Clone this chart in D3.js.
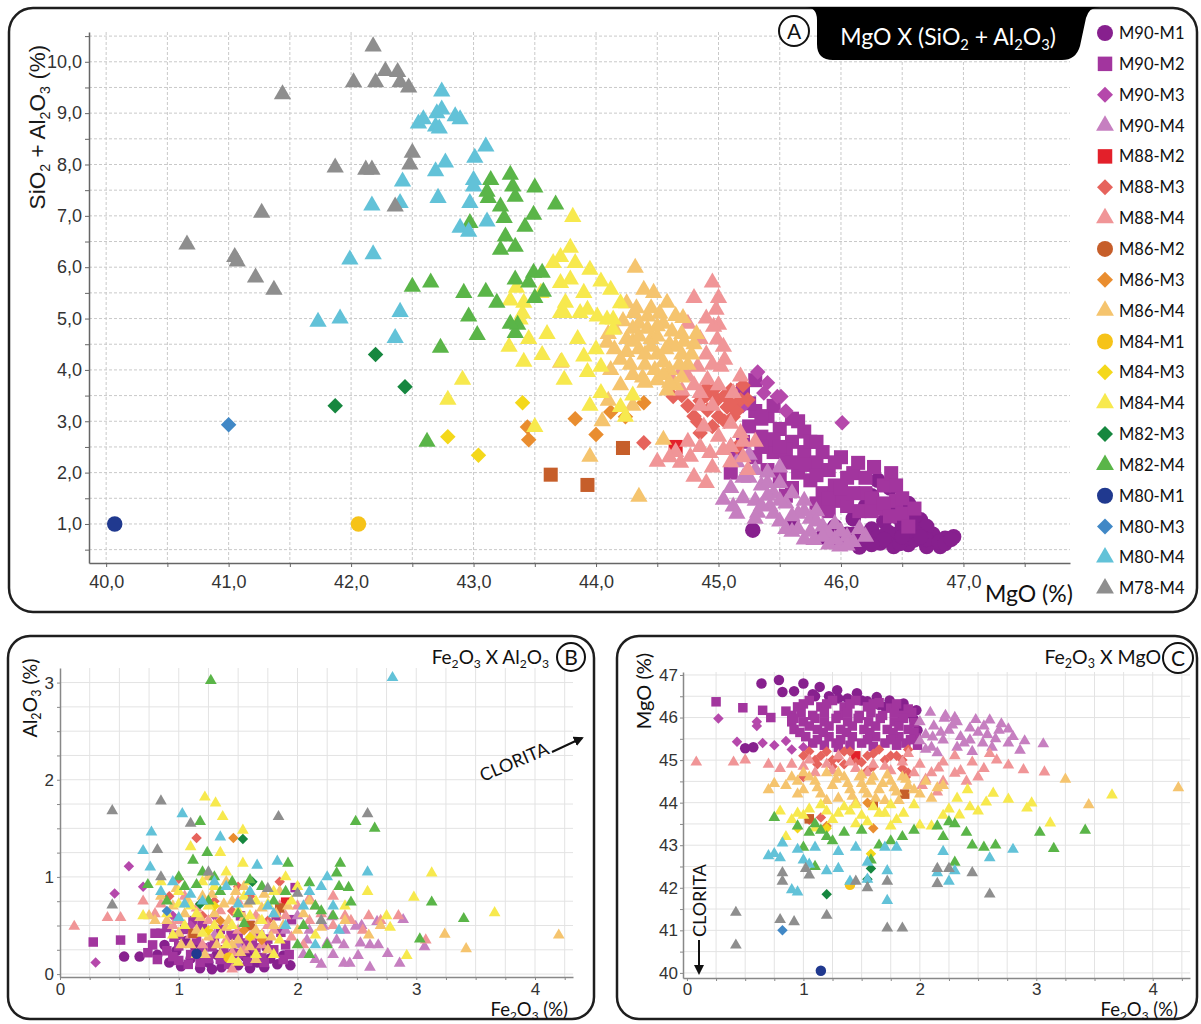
<!DOCTYPE html>
<html>
<head>
<meta charset="utf-8">
<script src="https://cdn.jsdelivr.net/npm/d3@7"></script>
<style>
  body { margin: 0; background: #fff; }
  svg { display: block; }
  .tick text { font-family: "Liberation Sans", Arial, sans-serif; fill: #333; }
  .lbl { font-family: Lato, "Open Sans", sans-serif; fill: #111; }
</style>
</head>
<body>
<div id="chart"></div>
<script>
// ---- series (legend order) ----
var seriesNames = ["M90-M1", "M90-M2", "M90-M3", "M90-M4", "M88-M2", "M88-M3", "M88-M4",
    "M86-M2", "M86-M3", "M86-M4", "M84-M1", "M84-M3", "M84-M4", "M82-M3", "M82-M4",
    "M80-M1", "M80-M3", "M80-M4", "M78-M4"];
var seriesColors = ["#87208e", "#a2359e", "#b548ab", "#c67fc0", "#e3202a", "#e6635c", "#f09597",
    "#c65e2a", "#e98d2f", "#f5c46e", "#f6c319", "#f4d81a", "#f7e94e", "#16873f", "#5ab548",
    "#20398f", "#4188c6", "#62c2d8", "#8e8e8e"];
var plotShapes = ["circle", "square", "diamond", "triangle", "square", "diamond", "triangle",
    "square", "diamond", "triangle", "circle", "diamond", "triangle", "diamond", "triangle",
    "circle", "diamond", "triangle", "triangle"];
var legendShapes = ["circle", "square", "diamond", "triangle", "square", "diamond", "triangle",
    "circle", "diamond", "triangle", "circle", "diamond", "triangle", "diamond", "triangle",
    "circle", "diamond", "triangle", "triangle"];

// ---- panel A: MgO (%) x SiO2 + Al2O3 (%) ----
var A_M90_M1 = [[45.28,0.88],[45.6,1.02],[45.85,0.75],[45.95,0.95],[46.05,0.8],[46.1,1.1],[46.2,0.65],[46.25,0.9],[46.32,0.63],[46.35,1.05],[46.43,0.56],[46.45,0.8],[46.5,1.0],[46.55,0.6],[46.6,0.69],[46.65,1.08],[46.7,0.56],[46.75,0.8],[46.81,0.56],[46.85,0.72],[46.92,0.75],[46.4,1.25],[46.2,1.35],[46.55,1.2],[46.3,0.75],[46.15,0.55],[46.0,0.65],[46.7,0.95],[46.48,0.62],[46.38,0.85],[46.6,0.85],[46.25,1.55],[46.4,1.7],[46.45,1.35],[46.3,1.85],[46.55,1.4],[46.6,1.15],[46.7,0.7],[46.8,0.65],[46.5,0.75],[46.35,0.7],[46.25,0.6],[46.1,0.8],[46.45,1.15],[46.65,0.75],[46.85,0.62],[46.9,0.7]];
var A_M90_M2 = [[45.1,2.0],[45.2,2.6],[45.25,2.9],[45.3,2.3],[45.35,2.7],[45.4,3.1],[45.45,2.4],[45.5,2.85],[45.55,2.2],[45.6,2.6],[45.65,2.0],[45.7,2.4],[45.75,1.85],[45.8,2.2],[45.85,1.6],[45.9,2.05],[45.95,1.75],[46.0,1.45],[46.05,1.9],[46.1,1.99],[46.14,2.19],[46.2,1.6],[46.27,2.11],[46.3,1.3],[46.35,1.75],[46.41,1.99],[46.45,1.45],[46.5,1.2],[45.6,1.7],[45.7,2.8],[45.5,1.9],[45.4,2.05],[45.3,3.2],[45.45,3.3],[45.8,1.4],[46.0,2.3],[45.65,3.0],[45.55,1.55],[45.9,1.25],[46.15,1.25],[46.25,1.5],[45.2,3.6],[45.3,3.8],[45.25,3.35],[45.35,3.05],[45.45,2.65],[45.55,2.45],[45.6,3.05],[45.7,2.15],[45.75,2.6],[45.8,1.95],[45.85,2.4],[45.9,1.5],[45.95,2.2],[46.0,1.7],[46.05,1.35],[46.1,1.6],[46.2,1.9],[46.25,1.25],[46.35,1.4],[46.4,1.15],[46.45,1.75],[46.5,1.5],[46.55,0.95],[46.6,1.3],[45.5,2.5],[45.6,2.2],[45.35,2.5],[45.15,2.4],[45.8,2.6]];
var A_M90_M3 = [[45.32,3.96],[45.48,3.48],[45.37,3.55],[46.01,2.97],[45.51,3.48],[45.4,3.75],[45.2,3.3],[45.55,3.2]];
var A_M90_M4 = [[45.04,1.47],[45.12,1.34],[45.32,1.22],[45.42,1.34],[45.5,1.05],[45.6,0.85],[45.7,0.7],[45.78,0.69],[45.85,0.95],[45.9,0.6],[45.99,0.56],[46.05,0.75],[45.55,1.4],[45.65,1.2],[45.75,1.1],[45.45,1.6],[45.35,1.75],[45.25,1.9],[45.6,1.6],[45.8,1.25],[45.95,1.0],[45.2,1.5],[45.3,1.45],[45.15,2.2],[45.25,2.35],[45.4,2.0],[45.5,1.8],[45.7,1.45],[46.15,0.9],[46.1,0.65],[45.9,0.8],[45.1,1.7],[45.15,1.2],[45.2,1.9],[45.3,1.1],[45.35,1.35],[45.4,1.55],[45.45,1.2],[45.5,1.45],[45.55,0.9],[45.6,1.15],[45.65,0.9],[45.7,1.25],[45.75,0.85],[45.8,1.05],[45.85,0.75],[45.95,0.7],[46.0,0.85],[46.05,0.58],[46.2,0.75],[45.4,1.8],[45.5,2.1],[45.3,2.05],[45.1,2.5]];
var A_M88_M2 = [[44.65,2.5]];
var A_M88_M3 = [[44.39,2.58],[44.63,3.48],[44.83,2.99],[44.91,3.22],[44.99,3.42],[45.07,3.28],[45.12,3.09],[45.18,3.42],[44.85,2.77],[44.96,3.61],[45.1,3.61],[45.15,2.5],[45.24,3.42],[45.0,3.1],[45.05,3.5],[44.9,3.5],[45.15,3.2],[44.75,3.3],[44.8,3.1],[44.95,2.9],[45.05,3.0],[44.9,3.65],[45.1,3.35],[45.2,3.7],[44.7,3.5],[44.85,3.4]];
var A_M88_M4 = [[44.98,5.17],[45.0,4.88],[44.96,4.84],[44.99,4.59],[45.04,4.45],[44.83,4.06],[44.75,3.87],[44.91,3.81],[45.02,4.06],[45.12,3.55],[45.18,3.87],[44.77,2.31],[44.69,2.19],[44.8,1.92],[44.5,2.21],[44.93,2.38],[45.04,2.44],[45.18,2.77],[45.24,2.05],[44.85,3.55],[44.95,3.3],[44.7,3.6],[44.9,4.3],[45.05,4.2],[44.8,3.7],[45.1,2.95],[44.88,2.9],[45.2,2.3],[44.6,3.9],[45.3,2.6],[44.75,4.9],[44.8,5.4],[44.85,4.6],[44.9,5.0],[44.95,4.1],[45.0,3.7],[44.7,4.0],[44.85,3.3],[44.75,2.6],[44.65,2.4],[44.85,2.5],[45.0,2.7],[45.1,2.5],[45.2,2.6],[44.95,2.1],[45.1,2.2],[44.9,1.8],[44.6,2.3],[44.95,5.7],[45.0,5.4]];
var A_M86_M2 = [[43.63,1.96],[43.93,1.76],[44.22,2.48]];
var A_M86_M3 = [[43.45,2.64],[43.44,2.89],[43.83,3.05],[44.0,2.74],[44.12,3.18],[44.39,3.36],[44.24,3.09]];
var A_M86_M4 = [[44.32,5.99],[44.39,5.56],[44.47,5.5],[44.58,5.31],[44.71,5.01],[44.31,5.11],[44.42,5.04],[44.2,4.2],[44.25,4.6],[44.3,3.9],[44.35,4.4],[44.35,4.9],[44.4,4.1],[44.45,4.6],[44.5,3.8],[44.5,4.3],[44.55,4.9],[44.6,4.5],[44.6,4.0],[44.65,3.7],[44.7,4.3],[44.7,4.7],[44.75,4.1],[44.8,4.5],[44.45,5.2],[44.25,5.3],[44.15,4.8],[44.3,4.55],[44.4,4.3],[44.55,4.15],[44.65,4.45],[44.5,4.65],[44.4,3.75],[44.58,3.6],[44.2,3.7],[43.95,2.31],[44.35,1.53],[44.55,2.64],[43.71,4.14],[44.09,4.53],[44.1,3.4],[44.05,3.0],[44.3,3.3],[44.12,4.0],[44.22,4.95],[44.28,4.1],[44.33,5.2],[44.38,3.85],[44.42,4.8],[44.48,4.0],[44.52,5.1],[44.57,4.4],[44.62,4.75],[44.68,4.1],[44.72,4.55],[44.78,4.3],[44.82,4.7],[44.65,5.05],[44.45,4.45],[44.35,4.65],[44.25,4.35],[44.55,3.9],[44.7,3.85],[44.6,3.75],[44.15,4.4],[44.1,4.7],[44.3,4.8],[44.5,4.85]];
var A_M84_M1 = [[42.06,1.0]];
var A_M84_M3 = [[43.4,3.36],[42.79,2.7],[43.04,2.34]];
var A_M84_M4 = [[43.81,6.98],[43.79,6.38],[43.71,6.2],[43.65,6.08],[43.83,6.08],[43.95,5.95],[44.04,5.72],[44.12,5.56],[43.71,5.69],[43.79,5.76],[43.75,5.31],[43.93,5.17],[43.41,5.31],[43.38,4.98],[44.01,5.04],[44.09,4.98],[44.14,4.78],[43.71,5.11],[43.29,4.45],[43.41,4.16],[43.56,4.29],[42.91,3.81],[42.79,3.42],[43.74,5.11],[43.87,5.11],[43.72,4.16],[43.74,3.81],[43.9,4.26],[43.93,3.96],[44.04,4.06],[44.04,3.55],[44.14,4.98],[44.2,3.28],[44.24,3.09],[43.5,2.89],[43.6,4.7],[43.85,4.6],[43.55,5.5],[43.9,5.5],[44.2,5.3],[44.0,4.4],[43.35,5.6],[43.45,4.6],[44.3,3.5],[43.95,3.3],[43.3,5.35],[43.4,5.1]];
var A_M82_M3 = [[41.87,3.3],[42.2,4.3],[42.44,3.67]];
var A_M82_M4 = [[43.14,7.7],[43.11,7.47],[43.12,7.35],[43.3,7.8],[43.32,7.57],[43.34,7.37],[43.5,7.55],[43.22,7.18],[43.25,6.96],[42.97,6.86],[43.42,6.79],[43.49,7.02],[43.67,7.22],[43.26,6.6],[43.22,6.34],[43.34,6.4],[42.5,5.62],[42.65,5.7],[42.92,5.5],[43.1,5.52],[43.19,5.31],[43.34,5.76],[43.49,5.89],[43.56,5.89],[43.5,5.4],[43.57,5.52],[42.96,5.04],[43.36,4.88],[43.34,4.72],[43.03,4.68],[42.73,4.43],[42.62,2.6],[43.45,5.7],[43.3,4.9]];
var A_M80_M1 = [[40.07,1.0]];
var A_M80_M3 = [[41.0,2.93]];
var A_M80_M4 = [[42.42,7.67],[42.4,7.25],[42.17,7.2],[41.99,6.15],[42.18,6.25],[41.73,4.94],[41.91,5.0],[42.4,5.13],[42.36,4.62],[42.55,8.8],[42.74,9.42],[42.59,8.88],[42.69,8.74],[42.74,9.07],[42.85,8.94],[42.89,8.88],[42.77,8.04],[42.69,7.87],[43.01,8.13],[43.1,8.35],[43.0,7.7],[43.0,7.57],[42.71,7.35],[42.97,7.25],[42.89,6.77],[42.96,6.69],[43.11,6.89],[42.7,9.0],[42.72,8.7]];
var A_M78_M4 = [[41.44,9.37],[42.18,10.3],[42.02,9.6],[42.2,9.6],[42.28,9.82],[42.38,9.8],[42.4,9.6],[42.47,9.5],[42.5,8.23],[42.48,8.0],[42.36,7.18],[41.87,7.94],[42.12,7.9],[42.17,7.9],[41.27,7.06],[40.66,6.44],[41.05,6.2],[41.07,6.11],[41.22,5.8],[41.37,5.56]];

// ---- panel B: Fe2O3 (%) x Al2O3 (%) ----
var B_M90_M1 = [[0.54,0.18],[0.67,0.18],[0.82,0.2],[0.92,0.12],[1.02,0.08],[1.1,0.16],[1.18,0.06],[1.25,0.12],[1.32,0.2],[1.36,0.07],[1.42,0.14],[1.5,0.09],[1.56,0.18],[1.6,0.06],[1.66,0.12],[1.72,0.07],[1.77,0.16],[1.83,0.1],[1.88,0.19],[1.94,0.09],[0.98,0.24],[1.14,0.27],[1.62,0.24],[1.74,0.27],[1.28,0.05],[1.46,0.22],[0.88,0.3],[1.06,0.34]];
var B_M90_M2 = [[0.28,0.33],[0.51,0.35],[0.69,0.37],[1.98,0.89],[0.78,0.3],[0.85,0.42],[0.9,0.24],[0.96,0.38],[1.0,0.29],[1.05,0.46],[1.1,0.2],[1.15,0.35],[1.2,0.27],[1.25,0.16],[1.3,0.35],[1.38,0.25],[1.44,0.4],[1.5,0.21],[1.55,0.32],[1.6,0.5],[1.65,0.27],[1.7,0.17],[1.75,0.36],[1.8,0.25],[1.86,0.43],[1.9,0.3],[1.95,0.56],[1.93,0.2],[1.0,0.14],[0.74,0.22],[1.35,0.46],[1.2,0.5],[1.82,0.6],[1.52,0.6],[0.9,0.48],[0.8,0.42],[1.08,0.1],[1.42,0.1],[1.58,0.13],[1.68,0.4],[1.28,0.28],[1.12,0.55],[0.95,0.18],[0.82,0.15],[1.18,0.12],[1.35,0.15],[1.62,0.35],[1.72,0.12],[1.88,0.15],[1.5,0.4],[1.0,0.4]];
var B_M90_M3 = [[0.58,1.11],[0.46,0.83],[0.7,0.9],[0.3,0.12],[1.1,0.5],[1.3,0.6],[0.95,0.6]];
var B_M90_M4 = [[2.89,0.56],[2.54,0.5],[2.49,0.49],[2.61,0.3],[2.68,0.3],[2.51,0.19],[2.44,0.11],[2.39,0.11],[2.61,0.07],[2.76,0.21],[2.86,0.11],[3.07,0.28],[2.33,0.35],[2.25,0.32],[2.15,0.15],[2.39,0.3],[2.53,0.32],[2.67,0.54],[2.29,0.59],[2.22,0.49],[2.08,0.35],[2.05,0.2],[2.2,0.1],[2.3,0.2],[2.1,0.45],[1.7,0.4],[1.5,0.3],[1.3,0.4],[2.0,0.6],[2.4,0.45],[1.9,0.45]];
var B_M88_M2 = [[1.9,0.74]];
var B_M88_M3 = [[1.15,1.4],[1.0,0.98],[0.92,0.8],[1.3,0.75],[1.45,0.65],[1.6,0.8],[1.75,0.55],[1.2,0.6],[1.85,0.95],[1.5,0.9]];
var B_M88_M4 = [[0.12,0.49],[0.4,0.58],[0.51,0.58],[0.7,0.75],[0.85,0.72],[1.0,0.55],[1.1,0.4],[1.2,0.3],[1.3,0.5],[1.4,0.35],[1.5,0.45],[1.55,0.25],[1.65,0.6],[1.7,0.3],[1.8,0.45],[1.9,0.6],[2.0,0.7],[2.1,0.55],[2.2,0.62],[2.3,0.5],[2.45,0.55],[2.55,0.45],[2.7,0.55],[2.85,0.6],[1.45,0.05],[1.15,0.2],[2.3,0.8],[2.1,0.78],[3.08,0.35],[0.8,0.62],[0.95,0.5],[1.05,0.8],[1.25,0.55],[1.35,0.65],[1.45,0.22],[1.6,0.38],[1.75,0.5],[1.85,0.7],[1.95,0.38],[2.05,0.3],[2.15,0.7],[2.4,0.6],[2.6,0.6],[1.15,0.68],[1.5,0.75]];
var B_M86_M2 = [[1.12,0.42],[1.85,0.68],[1.6,0.5]];
var B_M86_M3 = [[1.46,1.4],[1.35,0.55],[1.55,0.45],[1.7,0.35]];
var B_M86_M4 = [[0.9,0.55],[0.95,0.7],[1.05,0.62],[1.15,0.45],[1.2,0.8],[1.25,0.38],[1.3,0.62],[1.35,0.2],[1.4,0.48],[1.45,0.75],[1.5,0.35],[1.55,0.58],[1.6,0.28],[1.65,0.45],[1.7,0.68],[1.75,0.25],[1.8,0.5],[1.85,0.85],[2.1,0.75],[2.0,0.45],[2.6,0.4],[2.7,0.5],[3.24,0.41],[3.42,0.26],[4.2,0.4],[1.25,1.0],[1.4,0.95],[1.02,0.3],[0.75,0.6],[0.85,0.8],[0.98,0.88],[1.08,0.75],[1.18,0.58],[1.22,0.2],[1.32,0.3],[1.38,0.72],[1.42,0.55],[1.48,0.85],[1.52,0.22],[1.58,0.72],[1.62,0.4],[1.68,0.55],[1.72,0.82],[1.78,0.38],[1.82,0.62],[1.88,0.5],[1.92,0.7],[2.05,0.62],[2.2,0.48],[2.4,0.55],[1.0,0.42],[1.1,0.3],[0.8,0.55],[1.28,0.82],[1.55,0.9],[1.65,0.15],[1.45,0.3]];
var B_M84_M1 = [[1.42,0.17]];
var B_M84_M3 = [[1.3,0.7],[1.6,0.38],[1.25,0.45]];
var B_M84_M4 = [[1.22,1.82],[1.31,1.76],[1.37,1.62],[1.54,1.48],[1.1,1.31],[1.35,1.25],[1.54,1.14],[3.13,1.04],[2.98,0.79],[2.59,0.85],[3.66,0.63],[2.92,0.19],[2.78,0.48],[0.85,0.95],[1.0,0.85],[1.1,0.7],[1.2,0.95],[1.3,0.5],[1.4,0.3],[1.5,0.65],[1.6,0.95],[1.7,0.55],[1.8,0.85],[1.9,1.0],[0.95,0.4],[1.15,0.2],[1.45,0.15],[1.65,0.2],[2.0,0.9],[2.15,0.4],[2.4,0.7],[0.7,0.6],[2.75,0.6],[0.9,0.62],[1.05,0.5],[1.15,0.62],[1.25,0.7],[1.35,0.4],[1.45,0.5],[1.55,0.8],[1.6,0.6],[1.7,0.4],[1.75,0.72],[1.85,0.35],[1.95,0.75],[1.3,0.9],[1.0,0.72],[1.4,1.05],[1.65,0.75],[1.2,0.42],[1.5,0.12],[1.8,0.2]];
var B_M82_M3 = [[1.54,1.39],[1.18,0.72],[1.62,0.95]];
var B_M82_M4 = [[1.27,3.02],[2.49,1.57],[2.65,1.5],[1.18,1.57],[1.24,1.25],[1.12,1.17],[1.92,1.14],[1.2,1.05],[0.74,0.92],[1.05,0.9],[2.36,1.14],[2.33,1.04],[2.1,0.94],[2.43,0.89],[2.45,0.74],[3.13,0.74],[3.4,0.57],[3.03,0.36],[1.6,0.97],[1.35,0.85],[1.8,0.75],[2.2,0.65],[2.25,0.3],[2.3,0.6],[0.9,0.75],[1.5,0.62],[2.05,0.5],[1.0,1.0],[1.15,0.92],[1.3,1.0],[1.45,0.95],[1.7,0.9],[1.9,0.85],[2.15,0.7],[2.35,0.9],[1.25,0.75],[1.55,0.52],[2.0,0.3],[2.1,0.2]];
var B_M80_M1 = [[1.15,0.21]];
var B_M80_M3 = [[0.9,0.65]];
var B_M80_M4 = [[2.8,3.05],[1.03,1.65],[0.77,1.46],[0.7,1.27],[0.76,1.1],[1.35,1.41],[1.83,1.16],[1.66,1.12],[2.59,1.05],[2.25,1.0],[0.95,0.95],[1.1,0.82],[1.4,0.9],[1.6,0.85],[2.1,0.85],[2.3,0.7],[2.2,0.9],[1.75,0.7],[1.9,0.5],[2.35,0.45],[1.0,0.58],[0.85,0.85],[1.2,0.75],[1.5,0.72],[1.8,0.62],[2.05,0.7],[2.15,0.3],[1.3,0.95],[1.05,0.72]];
var B_M78_M4 = [[0.44,1.68],[0.85,1.78],[1.84,1.62],[2.59,1.65],[0.82,1.28],[0.44,0.71],[0.85,1.0],[1.1,1.55],[1.25,1.05],[1.6,0.75],[2.2,0.55],[2.0,0.83],[1.75,0.88]];

// ---- panel C: Fe2O3 (%) x MgO (%) ----
var C_M90_M1 = [[0.64,46.8],[0.79,46.88],[0.82,46.6],[0.5,45.28],[0.57,45.3],[1.0,46.8],[1.14,46.72],[1.29,46.64],[1.46,46.57],[1.63,46.48],[1.74,46.4],[1.86,46.33],[1.97,46.17],[0.92,46.62],[1.08,46.55],[1.22,46.5],[1.38,46.45],[1.55,46.38],[1.7,46.25],[1.9,46.1],[1.95,45.95],[1.98,45.7],[1.1,46.5],[1.3,46.45],[1.5,46.4],[1.65,46.3],[1.85,46.2]];
var C_M90_M2 = [[0.25,46.37],[0.48,46.23],[0.65,46.17],[0.72,46.0],[0.85,46.15],[0.9,45.9],[1.05,46.4],[1.25,46.4],[1.45,46.4],[1.65,46.35],[0.95,46.25],[1.15,46.25],[1.35,46.25],[1.55,46.25],[1.75,46.22],[1.9,46.2],[0.9,46.05],[1.08,46.05],[1.3,46.05],[1.48,46.05],[1.68,46.05],[1.85,46.05],[1.0,45.9],[1.18,45.9],[1.38,45.9],[1.56,45.9],[1.78,45.9],[1.95,45.88],[0.92,45.72],[1.12,45.72],[1.32,45.72],[1.52,45.72],[1.72,45.72],[1.9,45.72],[1.02,45.55],[1.22,45.55],[1.42,45.55],[1.62,45.55],[1.82,45.55],[1.97,45.52],[1.08,45.4],[1.28,45.4],[1.5,45.4],[1.7,45.4],[1.88,45.4],[1.3,45.3],[1.6,45.32],[1.98,45.35],[1.0,46.32],[1.2,46.32],[1.4,46.32],[1.6,46.32],[1.8,46.32],[0.98,46.12],[1.18,46.12],[1.38,46.12],[1.58,46.12],[1.78,46.12],[1.93,46.12],[0.92,45.98],[1.1,45.98],[1.28,45.98],[1.47,45.98],[1.66,45.98],[1.86,45.98],[1.05,45.8],[1.22,45.8],[1.42,45.8],[1.62,45.8],[1.82,45.8],[0.97,45.65],[1.17,45.65],[1.37,45.65],[1.57,45.65],[1.77,45.65],[1.95,45.65],[1.12,45.48],[1.32,45.48],[1.55,45.48],[1.75,45.48],[1.92,45.48],[1.18,45.35],[1.4,45.35],[1.8,45.35]];
var C_M90_M3 = [[0.27,45.98],[0.43,45.43],[0.6,45.8],[0.75,45.35],[0.85,45.45],[0.9,45.25],[0.65,45.4],[1.0,45.3],[0.6,45.9]];
var C_M90_M4 = [[2.09,46.12],[2.21,45.98],[2.32,45.9],[2.43,45.75],[2.6,45.94],[2.76,45.73],[2.76,45.4],[3.06,45.38],[2.86,45.23],[2.54,45.4],[2.43,45.47],[2.32,45.3],[2.2,45.47],[2.11,45.54],[2.15,45.17],[2.0,45.9],[2.05,45.6],[2.25,45.7],[2.35,45.55],[2.5,45.65],[2.65,45.5],[2.7,45.85],[2.45,45.2],[2.1,45.3],[2.55,45.8],[2.3,46.0],[2.05,45.25],[2.12,45.8],[2.18,45.65],[2.28,45.82],[2.38,45.4],[2.48,45.95],[2.58,45.6],[2.62,45.3],[2.68,45.7],[2.8,45.55],[2.9,45.45],[2.22,46.05],[2.0,45.45]];
var C_M88_M2 = [[1.45,45.1]];
var C_M88_M3 = [[1.0,45.1],[1.1,45.0],[1.2,45.2],[1.3,45.05],[1.4,45.2],[1.5,44.95],[1.6,45.15],[1.7,45.0],[1.8,45.1],[1.85,44.8],[1.9,44.7],[1.0,44.6],[1.25,44.85],[1.55,44.75],[1.15,43.65],[1.05,43.6],[1.05,45.2],[1.15,45.1],[1.25,45.0],[1.35,45.2],[1.45,44.95],[1.55,45.1],[1.65,45.25],[1.75,45.1],[1.85,45.0],[1.88,44.6],[1.9,45.25],[1.35,44.9],[1.6,44.85],[1.12,44.9]];
var C_M88_M4 = [[0.08,44.95],[0.4,44.95],[0.5,45.0],[0.7,44.9],[0.8,44.8],[0.9,44.9],[1.0,44.85],[1.1,44.7],[1.2,44.9],[1.3,45.1],[1.45,44.8],[1.6,44.9],[1.75,44.75],[2.0,44.9],[2.1,44.7],[2.2,44.5],[2.35,44.75],[2.5,44.6],[2.45,44.95],[2.66,45.0],[2.76,44.88],[2.89,44.77],[3.07,44.72],[2.3,44.69],[2.16,44.81],[1.9,45.15],[2.05,44.55],[1.05,45.0],[1.25,44.75],[1.4,44.95],[1.55,44.7],[1.7,44.85],[1.85,44.95],[1.95,44.7],[2.2,44.95],[2.3,45.1],[2.55,44.8],[2.6,45.15],[2.4,44.5],[2.02,44.4],[2.15,44.25]];
var C_M86_M2 = [[1.05,43.62],[1.6,43.95],[1.87,44.2]];
var C_M86_M3 = [[1.6,43.4],[1.2,43.45],[1.55,44.0]];
var C_M86_M4 = [[0.7,44.3],[0.85,44.4],[0.9,44.6],[1.0,44.3],[1.1,44.5],[1.15,44.2],[1.25,44.4],[1.3,44.1],[1.35,44.6],[1.4,44.3],[1.45,44.0],[1.5,44.45],[1.55,44.2],[1.6,44.6],[1.65,44.3],[1.7,44.05],[1.75,44.5],[1.8,44.25],[1.85,44.6],[1.9,44.4],[2.0,44.2],[2.05,44.5],[2.15,44.35],[3.25,44.55],[3.45,43.95],[4.22,44.35],[0.95,44.5],[1.2,44.7],[1.5,44.65],[0.75,44.45],[0.95,44.2],[1.05,44.6],[1.12,44.35],[1.2,44.05],[1.28,44.55],[1.38,44.45],[1.42,44.15],[1.48,44.6],[1.52,44.3],[1.58,44.5],[1.62,44.1],[1.68,44.45],[1.72,44.65],[1.78,44.35],[1.82,44.05],[1.88,44.55],[1.95,44.3],[2.1,44.1],[2.2,44.4],[1.0,44.7],[1.3,44.7]];
var C_M84_M1 = [[1.4,42.07]];
var C_M84_M3 = [[1.58,42.8],[1.2,43.4],[0.95,43.4]];
var C_M84_M4 = [[0.8,43.8],[0.9,43.6],[1.0,43.7],[1.1,43.4],[1.2,43.8],[1.3,43.75],[1.4,43.8],[1.5,43.7],[1.6,43.9],[1.7,43.75],[1.8,43.6],[1.86,43.75],[2.0,43.47],[2.1,43.45],[2.2,43.7],[2.32,44.1],[2.41,44.3],[2.43,43.9],[2.57,44.01],[2.63,44.22],[2.76,44.08],[2.96,43.99],[2.92,43.87],[3.12,43.52],[3.65,44.18],[0.85,43.2],[1.45,43.95],[1.75,43.45],[2.34,43.71],[1.95,43.95],[1.05,43.85],[1.25,43.6],[1.35,43.9],[1.55,43.55],[1.65,43.75],[1.45,43.5],[1.15,43.95],[0.95,43.75],[1.75,43.95],[2.25,43.85],[2.5,43.8]];
var C_M82_M3 = [[1.2,41.85],[1.55,42.2],[1.58,42.45]];
var C_M82_M4 = [[0.75,43.65],[0.95,43.45],[1.05,43.3],[1.1,43.5],[1.15,43.35],[1.2,43.2],[1.25,43.1],[1.35,43.3],[1.5,43.35],[1.58,42.65],[1.65,43.0],[1.75,43.1],[1.85,43.2],[1.95,43.35],[2.15,43.45],[2.2,43.2],[2.3,43.5],[2.4,43.3],[2.45,43.0],[2.55,42.95],[2.65,43.0],[2.3,42.6],[3.03,43.3],[3.15,42.92],[3.42,43.35],[2.25,43.55],[1.1,42.5],[1.0,42.95]];
var C_M80_M1 = [[1.15,40.05]];
var C_M80_M3 = [[0.82,41.0]];
var C_M80_M4 = [[0.7,42.75],[0.75,42.8],[0.8,42.7],[0.82,43.05],[0.95,42.9],[1.0,42.65],[1.05,42.55],[1.1,42.95],[1.2,42.4],[1.3,42.85],[1.4,42.15],[1.45,42.95],[1.55,42.6],[1.7,42.95],[1.72,42.4],[1.72,41.7],[1.8,42.95],[2.2,42.85],[2.15,42.35],[2.25,42.15],[2.3,42.4],[2.6,42.7],[2.8,42.9],[0.9,41.95],[0.95,41.9],[1.3,42.45],[1.55,42.2]];
var C_M78_M4 = [[0.42,41.42],[0.42,40.65],[0.8,41.25],[0.92,41.2],[0.82,42.35],[0.82,42.15],[1.02,42.45],[1.05,42.3],[1.2,41.35],[1.55,42.0],[1.72,41.05],[1.85,41.05],[1.72,42.15],[2.15,42.45],[2.25,42.45],[2.15,42.1],[2.45,42.35],[2.6,41.85],[1.45,42.15]];

var panelA = [A_M90_M1, A_M90_M2, A_M90_M3, A_M90_M4, A_M88_M2, A_M88_M3, A_M88_M4, A_M86_M2, A_M86_M3, A_M86_M4,
    A_M84_M1, A_M84_M3, A_M84_M4, A_M82_M3, A_M82_M4, A_M80_M1, A_M80_M3, A_M80_M4, A_M78_M4];
var panelB = [B_M90_M1, B_M90_M2, B_M90_M3, B_M90_M4, B_M88_M2, B_M88_M3, B_M88_M4, B_M86_M2, B_M86_M3, B_M86_M4,
    B_M84_M1, B_M84_M3, B_M84_M4, B_M82_M3, B_M82_M4, B_M80_M1, B_M80_M3, B_M80_M4, B_M78_M4];
var panelC = [C_M90_M1, C_M90_M2, C_M90_M3, C_M90_M4, C_M88_M2, C_M88_M3, C_M88_M4, C_M86_M2, C_M86_M3, C_M86_M4,
    C_M84_M1, C_M84_M3, C_M84_M4, C_M82_M3, C_M82_M4, C_M80_M1, C_M80_M3, C_M80_M4, C_M78_M4];

var svg = d3.select("#chart").append("svg")
    .attr("width", 1201)
    .attr("height", 1024);

var arial = "'Liberation Sans', Arial, sans-serif";

// marker path for a given shape and nominal width
function symbolPath(shape, s) {
    if (shape == "circle") return d3.symbol(d3.symbolCircle, Math.PI * s * s / 4)();
    if (shape == "square") return d3.symbol(d3.symbolSquare, s * s * 0.82)();
    if (shape == "diamond") return d3.symbol(d3.symbolSquare, s * s * 0.5)();
    return d3.symbol(d3.symbolTriangle, 0.433 * s * s * 1.25)();
}

// text with chemical subscripts: "Al_2O_3"
function chem(sel, str, fs) {
    var shift = fs * 0.22, down = false;
    str.split(/(_\d)/).filter(function (p) { return p; }).forEach(function (p) {
        if (p[0] == "_") {
            sel.append("tspan").attr("font-size", fs * 0.64).attr("dy", down ? 0 : shift).text(p.slice(1));
            down = true;
        } else {
            sel.append("tspan").attr("dy", down ? -shift : 0).text(p);
            down = false;
        }
    });
    return sel;
}

function frame(x, y, w, h, r) {
    svg.append("rect")
        .attr("x", x).attr("y", y).attr("width", w).attr("height", h)
        .attr("rx", r).attr("ry", r)
        .attr("fill", "none").attr("stroke", "#1e1e1e").attr("stroke-width", 2.5);
}

function points(g, data, x, y, s) {
    data.forEach(function (pts, i) {
        var shape = plotShapes[i];
        g.append("g").selectAll("path")
            .data(pts)
            .enter().append("path")
            .attr("d", symbolPath(shape, s))
            .attr("transform", function (d) {
                return "translate(" + x(d[0]) + "," + y(d[1]) + ")" + (shape == "diamond" ? " rotate(45)" : "");
            })
            .attr("fill", seriesColors[i]);
    });
}

function circledLetter(cx, cy, r, letter) {
    svg.append("circle").attr("cx", cx).attr("cy", cy).attr("r", r)
        .attr("fill", "#fff").attr("stroke", "#111").attr("stroke-width", 2);
    svg.append("text").attr("class", "lbl").attr("x", cx).attr("y", cy + 7.5)
        .attr("text-anchor", "middle").attr("font-size", 21).text(letter);
}

function styleAxis(g, color) {
    g.select(".domain").attr("stroke", color).attr("stroke-width", 1.5);
    g.selectAll(".tick line").attr("stroke", color);
}

var fmtA = function (d) { return Number.isInteger(d) ? d3.format(".1f")(d).replace(".", ",") : ""; };
var fmtInt = function (d) { return Number.isInteger(d) ? d : ""; };

// ===================== panel A =====================
frame(9, 8, 1188, 604, 24);

var xA = d3.scaleLinear().domain([39.86, 47.87]).range([89, 1070]);
var yA = d3.scaleLinear().domain([0.24, 10.58]).range([563, 32]);

var gridA = svg.append("g").attr("stroke", "#c9c9c9").attr("stroke-dasharray", "3,2").attr("stroke-width", 1);
gridA.selectAll(".v").data(d3.range(40, 47.51, 0.5)).enter().append("line")
    .attr("x1", d => xA(d)).attr("x2", d => xA(d)).attr("y1", 32).attr("y2", 563);
gridA.selectAll(".h").data(d3.range(0.5, 10.51, 0.5)).enter().append("line")
    .attr("y1", d => yA(d)).attr("y2", d => yA(d)).attr("x1", 89).attr("x2", 1070);

var axAx = svg.append("g").attr("transform", "translate(0,563)")
    .call(d3.axisBottom(xA).tickValues(d3.range(40, 47.51, 0.5)).tickFormat(fmtA).tickSize(4).tickSizeOuter(0).tickPadding(8));
axAx.selectAll("text").attr("font-size", 18);
styleAxis(axAx, "#666");
var axAy = svg.append("g").attr("transform", "translate(89,0)")
    .call(d3.axisLeft(yA).tickValues(d3.range(0.5, 10.51, 0.5)).tickFormat(fmtA).tickSize(4).tickSizeOuter(0).tickPadding(3));
axAy.selectAll("text").attr("font-size", 18);
styleAxis(axAy, "#666");

points(svg.append("g"), panelA, xA, yA, 15.5);

chem(svg.append("text").attr("font-family", arial).attr("font-size", 22.5).attr("fill", "#1a1a1a")
    .attr("text-anchor", "middle").attr("transform", "translate(45,127) rotate(-90)"), "SiO_2 + Al_2O_3 (%)", 22.5);
svg.append("text").attr("class", "lbl").attr("x", 985).attr("y", 602).attr("font-size", 23).text("MgO (%)");

// title tab
svg.append("path")
    .attr("d", "M805,7 Q817,7 817,20 L817,44 Q817,60 833,60 L1062,60 Q1076,60 1080,46 L1086,18 Q1089,7 1100,7 Z")
    .attr("fill", "#000");
chem(svg.append("text").attr("class", "lbl").attr("x", 948).attr("y", 45).attr("text-anchor", "middle")
    .attr("font-size", 23).style("fill", "#fff"), "MgO X (SiO_2 + Al_2O_3)", 23);
circledLetter(794, 31, 15, "A");

// legend
var legend = svg.selectAll(".legend").data(seriesNames).enter().append("g")
    .attr("transform", (d, i) => "translate(1105," + (33 + i * 30.85) + ")");
legend.append("path")
    .attr("d", (d, i) => symbolPath(legendShapes[i], 16))
    .attr("transform", (d, i) => legendShapes[i] == "diamond" ? "rotate(45)" : null)
    .attr("fill", (d, i) => seriesColors[i]);
legend.append("text").attr("class", "lbl").attr("x", 14).attr("y", 6)
    .attr("font-size", 16.5).text(d => d);

// ===================== panel B =====================
frame(8, 636, 586, 383, 22);

var xB = d3.scaleLinear().domain([0, 4.32]).range([60, 573]);
var yB = d3.scaleLinear().domain([-0.03, 3.15]).range([977, 668]);

var gridB = svg.append("g").attr("stroke", "#e3e3e3").attr("stroke-width", 1);
gridB.selectAll(".v").data(d3.range(0.25, 4.26, 0.25)).enter().append("line")
    .attr("x1", d => xB(d)).attr("x2", d => xB(d)).attr("y1", 668).attr("y2", 977);
gridB.selectAll(".h").data(d3.range(0, 3.01, 0.25)).enter().append("line")
    .attr("y1", d => yB(d)).attr("y2", d => yB(d)).attr("x1", 60).attr("x2", 573);

var axBx = svg.append("g").attr("transform", "translate(0,977)")
    .call(d3.axisBottom(xB).tickValues(d3.range(0, 4.26, 0.25)).tickFormat(fmtInt).tickSize(3).tickSizeOuter(0).tickPadding(3));
axBx.selectAll("text").attr("font-size", 17);
styleAxis(axBx, "#888");
var axBy = svg.append("g").attr("transform", "translate(60,0)")
    .call(d3.axisLeft(yB).tickValues(d3.range(0, 3.01, 0.25)).tickFormat(fmtInt).tickSize(3).tickSizeOuter(0).tickPadding(3));
axBy.selectAll("text").attr("font-size", 17);
styleAxis(axBy, "#888");

points(svg.append("g"), panelB, xB, yB, 10.5);

chem(svg.append("text").attr("class", "lbl").attr("font-size", 19.5).attr("text-anchor", "middle")
    .attr("transform", "translate(37,698) rotate(-90)"), "Al_2O_3 (%)", 19.5);
chem(svg.append("text").attr("class", "lbl").attr("x", 568).attr("y", 1016).attr("font-size", 18.5)
    .attr("text-anchor", "end"), "Fe_2O_3 (%)", 18.5);
chem(svg.append("text").attr("class", "lbl").attr("x", 549).attr("y", 664).attr("font-size", 19)
    .attr("text-anchor", "end"), "Fe_2O_3 X Al_2O_3", 19);
circledLetter(571, 657, 14, "B");

// arrow marker
svg.append("defs").append("marker")
    .attr("id", "arrow").attr("viewBox", "0 0 10 10").attr("refX", 8).attr("refY", 5)
    .attr("markerWidth", 5).attr("markerHeight", 5).attr("orient", "auto")
    .append("path").attr("d", "M0,0 L10,5 L0,10 z").attr("fill", "#111");

svg.append("text").attr("class", "lbl").attr("font-size", 18)
    .attr("transform", "translate(483,782) rotate(-23)").text("CLORITA");
svg.append("line").attr("x1", 552).attr("y1", 752).attr("x2", 582).attr("y2", 738)
    .attr("stroke", "#111").attr("stroke-width", 2).attr("marker-end", "url(#arrow)");

// ===================== panel C =====================
frame(617, 636, 580, 383, 22);

var xC = d3.scaleLinear().domain([-0.034, 4.32]).range([683, 1190]);
var yC = d3.scaleLinear().domain([39.88, 47.07]).range([978, 672]);

var gridC = svg.append("g").attr("stroke", "#e3e3e3").attr("stroke-width", 1);
gridC.selectAll(".v").data(d3.range(0.25, 4.26, 0.25)).enter().append("line")
    .attr("x1", d => xC(d)).attr("x2", d => xC(d)).attr("y1", 672).attr("y2", 978);
gridC.selectAll(".h").data(d3.range(40, 47.01, 0.5)).enter().append("line")
    .attr("y1", d => yC(d)).attr("y2", d => yC(d)).attr("x1", 683).attr("x2", 1190);

var axCx = svg.append("g").attr("transform", "translate(0,978)")
    .call(d3.axisBottom(xC).tickValues(d3.range(0, 4.26, 0.25)).tickFormat(fmtInt).tickSize(3).tickSizeOuter(0).tickPadding(2));
axCx.selectAll("text").attr("font-size", 17);
styleAxis(axCx, "#888");
var axCy = svg.append("g").attr("transform", "translate(683,0)")
    .call(d3.axisLeft(yC).tickValues(d3.range(40, 47.01, 0.5)).tickFormat(fmtInt).tickSize(3).tickSizeOuter(0).tickPadding(2));
axCy.selectAll("text").attr("font-size", 17);
styleAxis(axCy, "#888");

points(svg.append("g"), panelC, xC, yC, 10.5);

svg.append("text").attr("class", "lbl").attr("font-size", 20).attr("text-anchor", "middle")
    .attr("transform", "translate(651,691) rotate(-90)").text("MgO (%)");
chem(svg.append("text").attr("class", "lbl").attr("x", 1178).attr("y", 1016).attr("font-size", 18.5)
    .attr("text-anchor", "end"), "Fe_2O_3 (%)", 18.5);
chem(svg.append("text").attr("class", "lbl").attr("x", 1161).attr("y", 664).attr("font-size", 19.5)
    .attr("text-anchor", "end"), "Fe_2O_3 X MgO", 19.5);
circledLetter(1178, 658, 15, "C");

svg.append("text").attr("class", "lbl").attr("font-size", 18)
    .attr("transform", "translate(706,937) rotate(-90)").text("CLORITA");
svg.append("line").attr("x1", 699).attr("y1", 940).attr("x2", 699).attr("y2", 973)
    .attr("stroke", "#111").attr("stroke-width", 2).attr("marker-end", "url(#arrow)");
</script>
</body>
</html>
